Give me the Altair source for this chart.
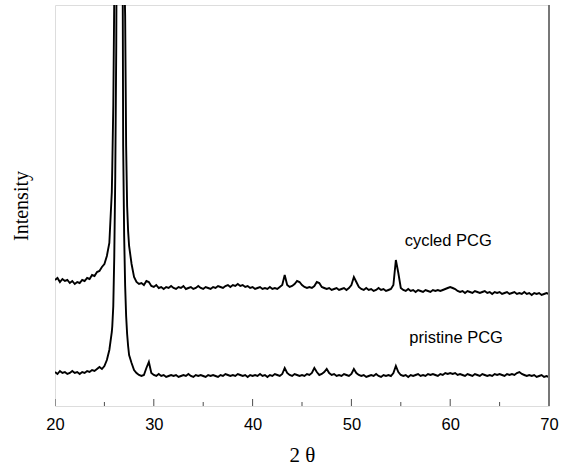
import altair as alt
import pandas as pd

# ---- sampling grid (2θ, degrees) ----
grid_a = [20 + 0.25 * i for i in range(24)]          # 20.00 .. 25.75
grid_b = [round(25.8 + 0.1 * i, 2) for i in range(17)]  # 25.8 .. 27.4 (peak region)
grid_c = [27.5 + 0.25 * i for i in range(171)]       # 27.50 .. 70.00
two_theta = grid_a + grid_b + grid_c

# ---- cycled PCG intensities (a.u.) ----
cycled_a = [126, 128, 124, 127,  125, 126, 123, 125,  122, 124, 123, 126,
            125, 128, 127, 131,  130, 134, 135, 139,  142, 150, 163, 214]
cycled_b = [240, 300, 410, 600, 900, 1200, 1400, 1450, 1350, 1100, 800, 560,
            440, 390, 260, 200, 175]
cycled_c = [160, 142,
            129, 124, 122, 123,  121, 125, 124, 120,  119, 121, 118, 119,
            117, 119, 118, 120,  118, 117, 119, 118,  120, 117, 118, 119,
            117, 118, 120, 118,  117, 119, 118, 117,  119, 118, 120, 119,
            118, 120, 121, 119,  121, 120, 122, 120,  121, 119, 120, 118,
            119, 117, 118, 119,  117, 118, 117, 119,  117, 118, 117, 119,
            121, 131, 121, 119,  120, 122, 125, 124,  121, 119, 118, 119,
            118, 120, 124, 123,  119, 118, 117, 118,  116, 117, 118, 116,
            117, 118, 116, 118,  121, 129, 124, 119,  117, 116, 118, 116,
            117, 115, 116, 118,  116, 117, 115, 116,  117, 121, 146, 133,
            118, 116, 115, 117,  115, 116, 114, 116,  115, 114, 116, 115,
            114, 116, 115, 116,  115, 116, 117, 118,  119, 118, 117, 115,
            114, 115, 113, 115,  114, 113, 115, 114,  113, 114, 115, 113,
            114, 112, 114, 113,  114, 112, 113, 114,  112, 113, 114, 112,
            113, 112, 114, 112,  113, 111, 113, 112,  113, 111, 112, 113,
            112]

# ---- pristine PCG intensities (a.u.) ----
pristine_a = [34, 32, 35, 33,  34, 32, 33, 35,  33, 34, 32, 34,
              33, 35, 34, 36,  35, 37, 39, 37,  40, 46, 56, 74]
pristine_b = [80, 100, 150, 230, 360, 600, 1200, 1800, 1900, 1500, 600, 260,
              170, 120, 90, 72, 60]
pristine_c = [51, 43,
              36, 33, 31, 30,  31, 38, 44, 33,  31, 30, 32, 30,
              31, 29, 30, 31,  30, 31, 29, 30,  31, 30, 32, 30,
              29, 31, 30, 31,  30, 29, 31, 30,  31, 30, 29, 31,
              30, 32, 31, 30,  31, 30, 32, 31,  30, 31, 29, 31,
              30, 31, 30, 32,  30, 31, 29, 31,  30, 32, 31, 30,
              32, 38, 33, 31,  30, 32, 31, 30,  31, 30, 32, 31,
              33, 38, 34, 31,  32, 34, 37, 33,  31, 32, 30, 31,
              30, 32, 31, 30,  32, 37, 33, 31,  30, 31, 29, 30,
              31, 30, 32, 30,  29, 31, 30, 31,  30, 33, 40, 34,
              31, 30, 31, 29,  31, 30, 31, 32,  30, 31, 30, 32,
              31, 32, 31, 30,  32, 31, 33, 32,  33, 32, 33, 31,
              32, 31, 30, 32,  31, 30, 32, 31,  30, 32, 31, 30,
              31, 30, 32, 31,  32, 31, 30, 32,  31, 32, 31, 33,
              34, 32, 31, 30,  31, 30, 31, 29,  30, 31, 29, 30,
              29]

cycled = cycled_a + cycled_b + cycled_c
pristine = pristine_a + pristine_b + pristine_c
assert len(cycled) == len(two_theta) == len(pristine)

# ---- annotations ----
label_text = ["cycled PCG", "pristine PCG"]
label_x = [59.8, 60.6]
label_y = [165, 68]

# ---- axis tick positions ----
major_ticks = [20, 30, 40, 50, 60, 70]
minor_ticks = [25, 35, 45, 55, 65]

df = pd.DataFrame({
    "two_theta": two_theta * 2,
    "intensity": cycled + pristine,
    "series": ["cycled PCG"] * len(two_theta) + ["pristine PCG"] * len(two_theta),
})
labels = pd.DataFrame({"x": label_x, "y": label_y, "text": label_text})
ticks = pd.DataFrame({
    "x": major_ticks + minor_ticks,
    "len": [14] * len(major_ticks) + [8] * len(minor_ticks),
})

xscale = alt.Scale(domain=[20, 70], nice=False, zero=False)
yscale = alt.Scale(domain=[0, 401], nice=False, zero=False)

xaxis = alt.Axis(
    values=major_ticks, ticks=False, domain=False, grid=False,
    labelFont="Liberation Sans", labelFontSize=16.5, labelColor="black",
    labelPadding=10, labelFlush=False,
    title="2 θ", titleFont="Liberation Serif", titleFontSize=21,
    titleFontWeight="normal", titleColor="black", titlePadding=12,
)
yaxis = alt.Axis(
    labels=False, ticks=False, domain=False, grid=False,
    title="Intensity", titleFont="Liberation Serif", titleFontSize=20,
    titleFontWeight="normal", titleColor="black", titlePadding=24,
)

lines = alt.Chart(df).mark_line(color="black", strokeWidth=1.9, clip=True).encode(
    x=alt.X("two_theta:Q", scale=xscale, axis=xaxis),
    y=alt.Y("intensity:Q", scale=yscale, axis=yaxis),
    detail="series:N",
)

text = alt.Chart(labels).mark_text(
    font="Liberation Sans", fontSize=16.5, color="black", align="center", baseline="middle"
).encode(
    x=alt.X("x:Q", scale=xscale),
    y=alt.Y("y:Q", scale=yscale),
    text="text:N",
)

tickmarks = alt.Chart(ticks).mark_tick(
    orient="vertical", color="black", thickness=1, clip=True
).encode(
    x=alt.X("x:Q", scale=xscale),
    y=alt.datum(0, scale=yscale),
    size=alt.Size("len:Q", scale=None, legend=None),
)

right_edge = alt.Chart(pd.DataFrame({"x": [70]})).mark_rule(
    color="#777777", strokeWidth=2
).encode(x=alt.X("x:Q", scale=xscale))

chart = alt.layer(lines, text, tickmarks, right_edge).properties(
    width=494, height=401,
    autosize=alt.AutoSizeParams(type="none"),
    padding={"left": 55, "top": 5, "right": 19, "bottom": 61},
).configure_view(
    stroke="black", strokeWidth=1.5
).configure(background="white")

chart.save("out.html", embed_options={"renderer": "svg", "actions": False})
